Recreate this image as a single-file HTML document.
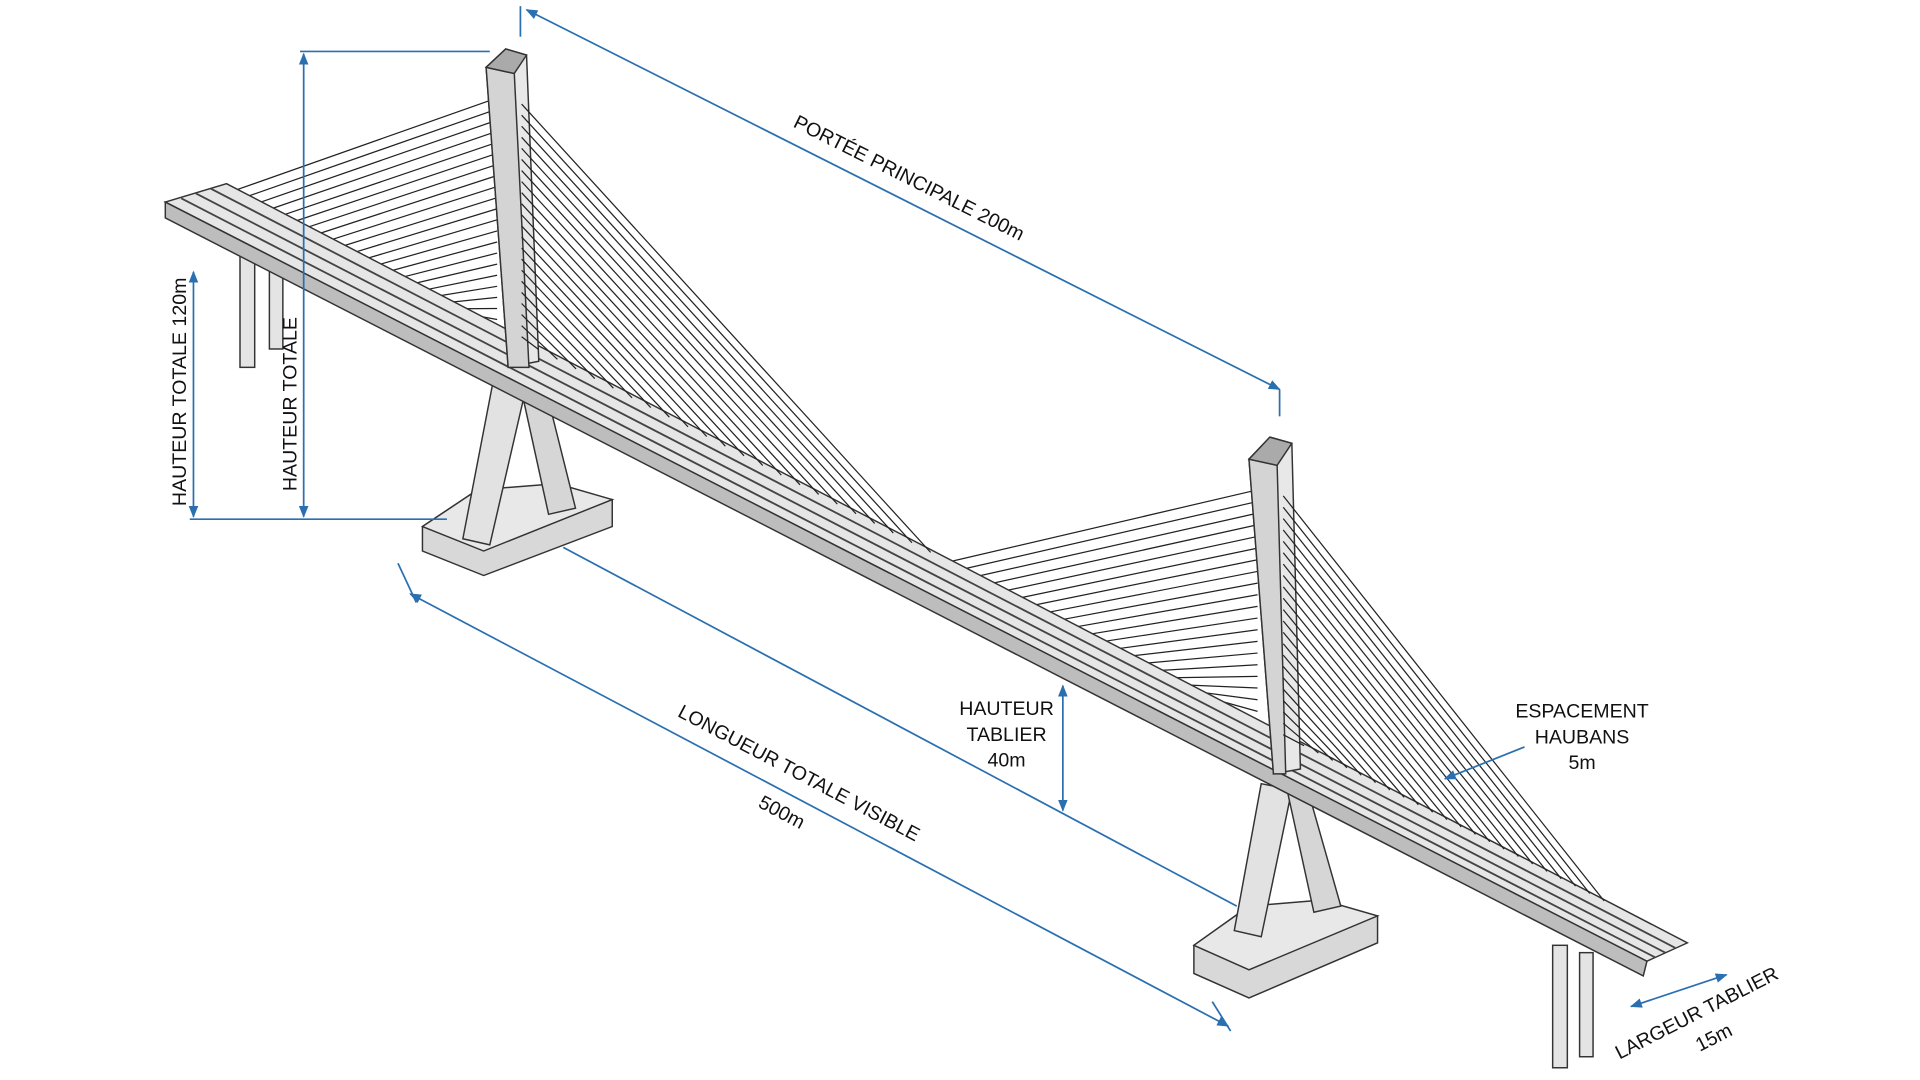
<!DOCTYPE html>
<html><head><meta charset="utf-8">
<style>
html,body{margin:0;padding:0;background:#fff;width:1920px;height:1080px;overflow:hidden}
svg{display:block}
text{font-family:"Liberation Sans",sans-serif;fill:#111}
</style></head>
<body>
<svg id="s" width="1920" height="1080" viewBox="0 0 1568 882" xmlns="http://www.w3.org/2000/svg">
<defs>
<marker id="a" viewBox="0 0 10 10" refX="9" refY="5" markerWidth="7" markerHeight="7" orient="auto-start-reverse"><path d="M0,1 L10,5 L0,9 z" fill="#2a6fb0"/></marker>
</defs>
<g id="cab" stroke="#222" stroke-width="1"></g>
<!-- left support columns -->
<g fill="#e4e4e4" stroke="#333" stroke-width="1.2">
<rect x="196" y="185" width="12" height="115"/>
<rect x="220" y="190" width="11" height="95"/>
<rect x="1268" y="772" width="12" height="100"/>
<rect x="1290" y="778" width="11" height="85"/>
</g>
<!-- footings -->
<g stroke="#333" stroke-width="1.2">
<polygon points="345,430 390,400 500,408 500,430 395,470 345,450" fill="#d8d8d8"/>
<polygon points="345,430 395,450 500,408 455,395 390,400" fill="#e8e8e8"/>
<polygon points="975,772 1020,740 1125,748 1125,770 1020,815 975,795" fill="#d8d8d8"/>
<polygon points="975,772 1020,792 1125,748 1080,735 1020,740" fill="#e8e8e8"/>
<!-- A legs pylon 1 -->
<polygon points="403,310 430,315 400,445 378,440" fill="#e2e2e2"/>
<polygon points="425,315 445,315 470,415 448,420" fill="#d6d6d6"/>
<polygon points="1030,640 1055,645 1030,765 1008,760" fill="#e2e2e2"/>
<polygon points="1050,640 1068,645 1095,740 1073,745" fill="#d6d6d6"/>
</g>
<!-- deck -->
<g stroke="#333" stroke-width="1.2">
<polygon points="135,165 185,150 1378,770 1345,785" fill="#e6e6e6"/>
<polygon points="135,165 1345,785 1342,797 135,178" fill="#bdbdbd"/>
</g>
<g stroke="#444" stroke-width="1.5">
<line x1="160" y1="158" x2="1360" y2="778"/>
<line x1="172" y1="154" x2="1368" y2="774"/>
<line x1="148" y1="162" x2="1352" y2="782"/>
</g>
<!-- pylons -->
<g stroke="#333" stroke-width="1.2">
<polygon points="397,55 413,40 430,45 440,295 415,300" fill="#e8e8e8"/>
<polygon points="397,55 420,60 432,300 415,300" fill="#d4d4d4"/>
<polygon points="413,40 430,45 420,60 397,55" fill="#aaa"/>
<polygon points="1020,375 1037,357 1055,362 1062,628 1040,632" fill="#e8e8e8"/>
<polygon points="1020,375 1043,380 1050,632 1040,632" fill="#d4d4d4"/>
<polygon points="1037,357 1055,362 1043,380 1020,375" fill="#aaa"/>
</g>
<g id="cab2" stroke="#222" stroke-width="1"></g>
<!-- dimensions -->
<g stroke="#2a6fb0" stroke-width="1.4" fill="none">
<line x1="430" y1="8" x2="1045" y2="318" marker-start="url(#a)" marker-end="url(#a)"/>
<line x1="425" y1="5" x2="425" y2="30"/><line x1="1045" y1="318" x2="1045" y2="340"/>
<line x1="158" y1="222" x2="158" y2="422" marker-start="url(#a)" marker-end="url(#a)"/>
<line x1="155" y1="424" x2="365" y2="424"/>
<line x1="248" y1="44" x2="248" y2="422" marker-start="url(#a)" marker-end="url(#a)"/>
<line x1="245" y1="42" x2="400" y2="42"/>
<line x1="335" y1="485" x2="1003" y2="838" marker-start="url(#a)" marker-end="url(#a)"/>
<line x1="325" y1="460" x2="340" y2="492"/><line x1="460" y1="447" x2="1010" y2="740"/>
<line x1="990" y1="818" x2="1005" y2="842"/>
<line x1="868" y1="560" x2="868" y2="662" marker-start="url(#a)" marker-end="url(#a)"/>
<line x1="1245" y1="610" x2="1180" y2="636" marker-end="url(#a)"/>
<line x1="1332" y1="822" x2="1410" y2="796" marker-start="url(#a)" marker-end="url(#a)"/>
</g>
<g font-size="16">
<text transform="translate(740,150) rotate(26.7)" text-anchor="middle">PORTÉE PRINCIPALE 200m</text>
<text transform="translate(152,320) rotate(-90)" text-anchor="middle">HAUTEUR TOTALE 120m</text>
<text transform="translate(242,330) rotate(-90)" text-anchor="middle">HAUTEUR TOTALE</text>
<text transform="translate(650,636) rotate(27.8)" text-anchor="middle">LONGUEUR TOTALE VISIBLE</text>
<text transform="translate(636,668) rotate(27.8)" text-anchor="middle">500m</text>
<text x="822" y="584" text-anchor="middle">HAUTEUR</text>
<text x="822" y="605" text-anchor="middle">TABLIER</text>
<text x="822" y="626" text-anchor="middle">40m</text>
<text x="1292" y="586" text-anchor="middle">ESPACEMENT</text>
<text x="1292" y="607" text-anchor="middle">HAUBANS</text>
<text x="1292" y="628" text-anchor="middle">5m</text>
<text transform="translate(1388,832) rotate(-27)" text-anchor="middle">LARGEUR TABLIER</text>
<text transform="translate(1402,852) rotate(-27)" text-anchor="middle">15m</text>
</g>
</svg>
<script>
(function(){
var ns="http://www.w3.org/2000/svg",g=document.getElementById("cab"),g2=document.getElementById("cab2");
function dy(x){return 152+(x-182)*0.5175;}
function L(p,x1,y1,x2,y2){var l=document.createElementNS(ns,"line");l.setAttribute("x1",x1);l.setAttribute("y1",y1);l.setAttribute("x2",x2);l.setAttribute("y2",y2);p.appendChild(l);}
var n=22,i,x,t;
for(i=0;i<n;i++){t=i/(n-1);
 x=190+t*205; L(g,406,80+t*190,x,dy(x));
 x=440+t*320; L(g2,426,85+(1-t)*190,x,dy(x));
 x=775+t*240; L(g,1027,400+t*200,x,dy(x));
 x=1065+t*245; L(g2,1048,405+(1-t)*195,x,dy(x));
}
})();
</script>
</body></html>
